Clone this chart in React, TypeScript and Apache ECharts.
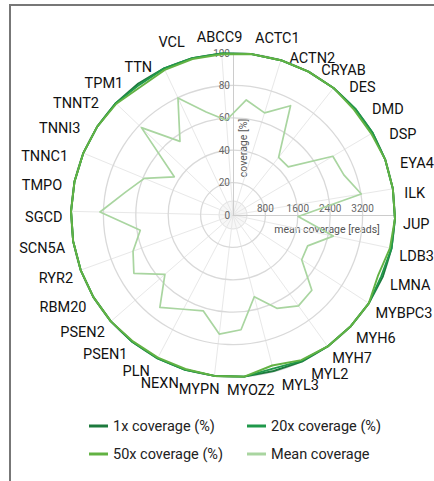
import React, { useEffect, useRef } from "react";
import * as echarts from "echarts";

const genes = [
  "ABCC9", "ACTC1", "ACTN2", "CRYAB", "DES", "DMD", "DSP", "EYA4", "ILK", "JUP",
  "LDB3", "LMNA", "MYBPC3", "MYH6", "MYH7", "MYL2", "MYL3", "MYOZ2", "MYPN", "NEXN",
  "PLN", "PSEN1", "PSEN2", "RBM20", "RYR2", "SCN5A", "SGCD", "TMPO", "TNNC1", "TNNI3",
  "TNNT2", "TPM1", "TTN", "VCL",
];

const cov1x = [
  100, 100, 100, 100, 100, 100, 100, 100, 100, 100,
  100, 100, 100, 100, 100, 100, 99.5, 100, 100, 100,
  100, 100, 100, 100, 100, 100, 100, 100, 100, 100,
  100, 100, 100, 100,
];
const cov20x = [
  100, 100, 100, 100, 100, 100, 100, 100, 100, 100,
  100, 99, 100, 100, 100, 99.5, 98, 100, 100, 100,
  100, 100, 100, 100, 100, 100, 100, 100, 100, 100,
  100, 99, 100, 100,
];
const cov50x = [
  99.5, 100, 100, 100, 100, 99, 99, 100, 100, 100,
  99, 97, 100, 100, 100, 99, 96, 100, 100, 99.5,
  99.5, 99.5, 100, 100, 100, 100, 100, 100, 100, 100,
  99.5, 97.5, 99, 99.5,
];
const meanCoverage = [
  2345, 2860, 2640, 3050, 1815, 1810, 2860, 2910, 3210, 1610,
  2530, 1995, 2025, 2690, 2765, 2545, 2085, 2840, 2960, 2480,
  2630, 2910, 2230, 2840, 2625, 2320, 3285, 2720, 2370, 1730,
  3125, 2240, 3195, 2630,
];
const coverageMax = 100;
const coverageStep = 20;
const meanMax = 4000;
const meanStep = 800;
const meanTickLabels = [800, 1600, 2400, 3200];

const seriesNames = ["1x coverage (%)", "20x coverage (%)", "50x coverage (%)", "Mean coverage"];
const seriesColors = ["#1d7a3d", "#1f984a", "#62b243", "#a9d5a0"];

export default function App() {
  const ref = useRef<HTMLDivElement>(null);
  useEffect(() => {
    const chart = echarts.init(ref.current as HTMLDivElement, null, { renderer: "svg" });
    const n = genes.length;
    // radar indicators run counter-clockwise; reorder so genes run clockwise
    const order = [0, ...Array.from({ length: n - 1 }, (_, k) => n - 1 - k)];
    const re = (a: any[]) => order.map((i) => a[i]);
    const CX = 233, CY = 215, R = 162;
    const START = 94;
    const font = "Roboto, 'Liberation Sans', sans-serif";

    const covSeries = [cov1x, cov20x, cov50x];
    const hiddenRadar = (max: number) => ({
      center: [CX, CY], radius: R, startAngle: START, shape: "circle", splitNumber: 5,
      indicator: re(genes).map((g: string) => ({ name: g, min: 0, max })),
      axisName: { show: false },
      splitLine: { show: false },
      splitArea: { show: false },
      axisLine: { show: false },
      axisTick: { show: false },
      axisLabel: { show: false },
    });
    const baseGraphic: any[] = [
      { type: "line", shape: { x1: 10, y1: 5, x2: 10, y2: 481 }, style: { stroke: "#777", lineWidth: 2 } },
      { type: "line", shape: { x1: 9, y1: 5, x2: 434, y2: 5 }, style: { stroke: "#777", lineWidth: 2 } },
      { type: "circle", shape: { cx: CX, cy: CY, r: 14 }, style: { fill: "rgba(0,0,0,0.03)", stroke: "#e0e0e0", lineWidth: 1 } },
      {
        type: "text", x: 327, y: 229,
        style: { text: "mean coverage [reads]", fill: "#555", fontSize: 10.5, fontFamily: font, align: "center", verticalAlign: "middle" },
      },
      {
        type: "text", x: 243, y: 148, rotation: Math.PI / 2,
        style: { text: "coverage [%]", fill: "#555", fontSize: 10.5, fontFamily: font, align: "center", verticalAlign: "middle" },
      },
    ];
    const option: any = {
      animation: false,
      backgroundColor: "#ffffff",
      polar: [
        { center: [CX, CY], radius: R },
        { center: [CX, CY], radius: R },
        { center: [CX, CY], radius: R },
      ],
      angleAxis: [
        { polarIndex: 0, type: "value", min: 0, max: 360, startAngle: 90, show: false },
        { polarIndex: 1, type: "value", min: 0, max: 360, startAngle: 0, show: false },
        {
          polarIndex: 2, type: "category", data: genes, boundaryGap: false,
          startAngle: START, clockwise: true,
          axisLine: { show: false },
          axisTick: { show: false },
          axisLabel: { show: false },
          splitLine: { show: true, interval: 0, lineStyle: { color: "#e8e8e8", width: 1 } },
          z: 0,
        },
      ],
      radiusAxis: [
        {
          polarIndex: 0, type: "value", min: 0, max: coverageMax, interval: coverageStep,
          axisLine: { show: true, lineStyle: { color: "#cccccc", width: 1 } },
          axisTick: { show: false },
          axisLabel: { color: "#666", fontSize: 10, fontFamily: font, margin: 3 },
          splitLine: { show: true, lineStyle: { color: "#d9d9d9", width: 1.3 } },
          z: 1,
        },
        {
          polarIndex: 1, type: "value", min: 0, max: meanMax, interval: meanStep,
          axisLine: { show: true, lineStyle: { color: "#cccccc", width: 1 } },
          axisTick: { show: false },
          axisLabel: {
            color: "#666", fontSize: 10, fontFamily: font, margin: 2,
            formatter: (v: number) => (meanTickLabels.includes(v) ? String(v) : ""),
          },
          splitLine: { show: false },
          z: 1,
        },
        { polarIndex: 2, type: "value", min: 0, max: 1, show: false },
      ],
      radar: [hiddenRadar(coverageMax), hiddenRadar(meanMax)],
      legend: [
        {
          data: [seriesNames[0], seriesNames[2]], orient: "vertical", left: 84, top: 413,
          icon: "rect", itemWidth: 19, itemHeight: 3, itemGap: 12,
          textStyle: { fontSize: 14.5, fontFamily: font, color: "#222", lineHeight: 16 },
        },
        {
          data: [seriesNames[1], seriesNames[3]], orient: "vertical", left: 242, top: 413,
          icon: "rect", itemWidth: 19, itemHeight: 3, itemGap: 12,
          textStyle: { fontSize: 14.5, fontFamily: font, color: "#222", lineHeight: 16 },
        },
      ],
      graphic: baseGraphic,
      series: [
        {
          type: "radar", radarIndex: 1, symbol: "none", z: 3,
          data: [{
            name: seriesNames[3], value: re(meanCoverage),
            lineStyle: { color: seriesColors[3], width: 1.7 }, itemStyle: { color: seriesColors[3] },
          }],
        },
        ...covSeries.map((vals, k) => ({
          type: "radar", radarIndex: 0, symbol: "none", z: 4 + k,
          data: [{
            name: seriesNames[k], value: re(vals),
            lineStyle: { color: seriesColors[k], width: 1.9 }, itemStyle: { color: seriesColors[k] },
          }],
        })),
      ],
    };
    chart.setOption(option);

    // gene labels: anchored on the category angle axis of polar 2, just outside the ring
    const labelR = (R + 8) / R;
    const labels = genes.map((g, i) => {
      const p = chart.convertToPixel({ polarIndex: 2 } as any, [labelR, i]) as unknown as number[];
      const dx = p[0] - CX, dy = CY - p[1];
      const rr = Math.hypot(dx, dy) || 1;
      const c = dx / rr, s = dy / rr;
      const align = c > 0.1 ? "left" : c < -0.1 ? "right" : "center";
      const top = s > 0.96;
      let x = p[0] + 22 * c * Math.max(0, s);
      if (s < -0.85) x += c > -0.2 ? 6 : -4;
      return {
        type: "text",
        x,
        y: top ? p[1] : p[1] + 6,
        style: {
          text: g, fill: "#111", fontSize: 14.5, fontFamily: font,
          align, verticalAlign: top ? "bottom" : "middle",
        },
      };
    });
    chart.setOption({ graphic: [...baseGraphic, ...labels] });
    return () => chart.dispose();
  }, []);
  return (
    <div
      ref={ref}
      style={{ position: "fixed", left: 0, top: 0, width: 434, height: 481, background: "#fff" }}
    />
  );
}
